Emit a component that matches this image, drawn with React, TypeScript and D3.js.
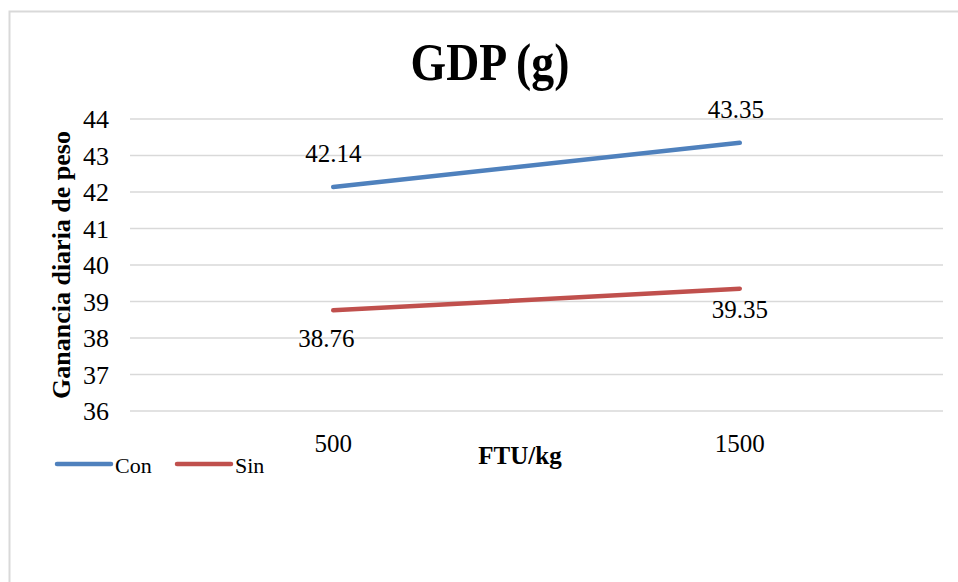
import React from "react";
import * as d3 from "d3";

// FTU/kg dose levels
const categories = ["500", "1500"];
// Daily weight gain (g)
const conValues = [42.14, 43.35];
const sinValues = [38.76, 39.35];
const yTicks = [36, 37, 38, 39, 40, 41, 42, 43, 44];

const seriesNames = ["Con", "Sin"];
const seriesColors = ["#4f81bd", "#c0504d"];

const W = 958;
const H = 582;
const FONT = "Liberation Serif, Times New Roman, Tinos, Nimbus Roman, DejaVu Serif, serif";

const textStyle = { fontFamily: FONT } as React.CSSProperties;

export default function App() {
  const plot = { left: 130, right: 943, top: 119, bottom: 411 };

  const x = d3
    .scaleBand<string>()
    .domain(categories)
    .range([plot.left, plot.right]);
  const y = d3.scaleLinear().domain([36, 44]).range([plot.bottom, plot.top]);

  const cx = (c: string) => (x(c) ?? 0) + x.bandwidth() / 2;

  const line = d3
    .line<{ c: string; v: number }>()
    .x((d) => cx(d.c))
    .y((d) => y(d.v));

  const series = [conValues, sinValues].map((vals, i) => ({
    name: seriesNames[i],
    color: seriesColors[i],
    points: categories.map((c, j) => ({ c, v: vals[j] })),
  }));

  // label placement: Con above the line, Sin below it
  const labelShift = [
    [
      { dx: 0, dy: -25 },
      { dx: -4, dy: -25 },
    ],
    [
      { dx: -7, dy: 37 },
      { dx: 0, dy: 29 },
    ],
  ];

  return (
    <svg
      width={W}
      height={H}
      viewBox={`0 0 ${W} ${H}`}
      style={{ position: "absolute", left: 0, top: 0, background: "#fff" }}
    >
      <rect x={0} y={0} width={W} height={H} fill="#fff" />
      {/* chart area frame */}
      <rect
        x={9.5}
        y={11.5}
        width={W + 20}
        height={H + 20}
        fill="none"
        stroke="#d9d9d9"
        strokeWidth={2}
      />

      {/* title */}
      <text
        transform={`translate(490, 80) scale(0.88, 1)`}
        textAnchor="middle"
        style={textStyle}
        fontWeight="bold"
        fontSize={52}
        fill="#000"
      >
        GDP (g)
      </text>

      {/* gridlines */}
      {yTicks.map((t) => (
        <line
          key={t}
          x1={plot.left}
          x2={plot.right}
          y1={y(t)}
          y2={y(t)}
          stroke="#d9d9d9"
          strokeWidth={1.5}
        />
      ))}

      {/* y tick labels */}
      {yTicks.map((t) => (
        <text
          key={`yl${t}`}
          x={109}
          y={y(t)}
          dy="0.35em"
          textAnchor="end"
          style={textStyle}
          fontSize={26}
          fill="#000"
        >
          {t}
        </text>
      ))}

      {/* x tick labels */}
      {categories.map((c) => (
        <text
          key={`xl${c}`}
          x={cx(c)}
          y={452}
          textAnchor="middle"
          style={textStyle}
          fontSize={25}
          fill="#000"
        >
          {c}
        </text>
      ))}

      {/* axis titles */}
      <text
        x={520}
        y={464}
        textAnchor="middle"
        style={textStyle}
        fontWeight="bold"
        fontSize={25}
        fill="#000"
      >
        FTU/kg
      </text>
      <text
        transform={`translate(70, 265) rotate(-90)`}
        textAnchor="middle"
        style={textStyle}
        fontWeight="bold"
        fontSize={26}
        fill="#000"
      >
        Ganancia diaria de peso
      </text>

      {/* series lines */}
      {series.map((s) => (
        <path
          key={s.name}
          d={line(s.points) ?? ""}
          fill="none"
          stroke={s.color}
          strokeWidth={4.5}
          strokeLinecap="round"
        />
      ))}

      {/* data labels */}
      {series.map((s, i) =>
        s.points.map((p, j) => (
          <text
            key={`dl${i}${j}`}
            x={cx(p.c) + labelShift[i][j].dx}
            y={y(p.v) + labelShift[i][j].dy}
            textAnchor="middle"
            style={textStyle}
            fontSize={25}
            fill="#000"
          >
            {p.v.toFixed(2)}
          </text>
        ))
      )}

      {/* legend */}
      {series.map((s, i) => {
        const lx = 57 + i * 120;
        return (
          <g key={`lg${s.name}`}>
            <line
              x1={lx}
              x2={lx + 54}
              y1={464}
              y2={464}
              stroke={s.color}
              strokeWidth={4.5}
              strokeLinecap="round"
            />
            <text
              x={lx + 58}
              y={473}
              style={textStyle}
              fontSize={22}
              fill="#000"
            >
              {s.name}
            </text>
          </g>
        );
      })}
    </svg>
  );
}
